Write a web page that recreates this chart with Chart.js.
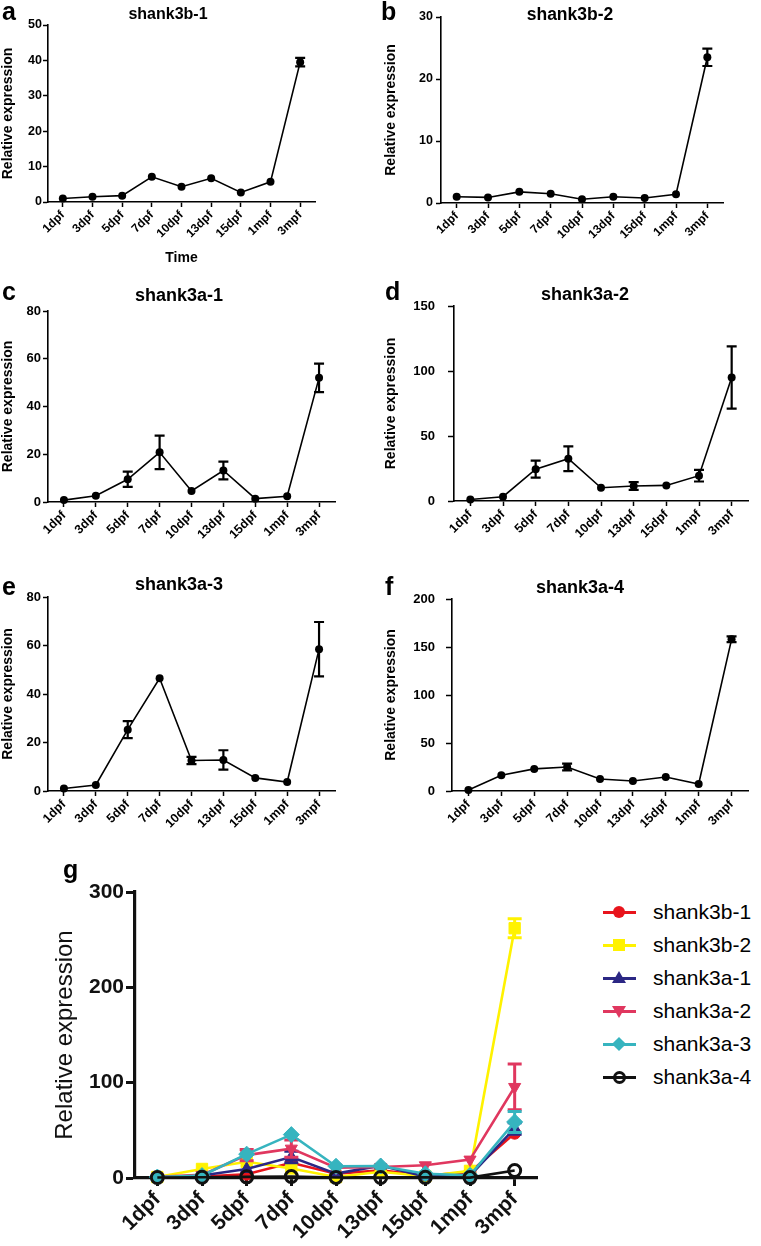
<!DOCTYPE html>
<html><head><meta charset="utf-8">
<script src="https://cdn.jsdelivr.net/npm/chart.js@4/dist/chart.umd.min.js"></script>
<style>
html,body{margin:0;padding:0;background:#fff;}
body{width:761px;height:1246px;position:relative;overflow:hidden;font-family:"Liberation Sans",Arial,sans-serif;color:#000;}
canvas{position:absolute;}
.lbl{position:absolute;white-space:nowrap;line-height:1;font-weight:bold;}
.ttl{position:absolute;white-space:nowrap;line-height:1;font-weight:bold;transform:translateX(-50%);}
.leg{position:absolute;left:603px;height:20px;width:160px;}
.leg .ln{position:absolute;left:0;top:9px;width:33px;height:2.5px;}
.leg .tx{position:absolute;left:50px;top:-1px;font-size:21px;line-height:21px;white-space:nowrap;}
.mk{position:absolute;}
</style></head><body>

<canvas id="ca" width="380" height="267" style="left:0;top:0"></canvas>
<canvas id="cb" width="381" height="267" style="left:380px;top:0"></canvas>
<canvas id="cc" width="380" height="280" style="left:0;top:265px"></canvas>
<canvas id="cd" width="381" height="280" style="left:380px;top:265px"></canvas>
<canvas id="ce" width="380" height="285" style="left:0;top:545px"></canvas>
<canvas id="cf" width="381" height="285" style="left:380px;top:545px"></canvas>
<canvas id="cg" width="590" height="416" style="left:0;top:830px"></canvas>

<div class="lbl" style="left:2px;top:-1px;font-size:25px">a</div>
<div class="lbl" style="left:381px;top:-1px;font-size:25px">b</div>
<div class="lbl" style="left:2px;top:279px;font-size:25px">c</div>
<div class="lbl" style="left:385px;top:279px;font-size:25px">d</div>
<div class="lbl" style="left:2px;top:574px;font-size:25px">e</div>
<div class="lbl" style="left:385px;top:574px;font-size:25px">f</div>
<div class="lbl" style="left:63px;top:857px;font-size:25px">g</div>

<div class="ttl" style="left:168px;top:6px;font-size:16px">shank3b-1</div>
<div class="ttl" style="left:570px;top:6px;font-size:17.5px">shank3b-2</div>
<div class="ttl" style="left:179px;top:286px;font-size:18px">shank3a-1</div>
<div class="ttl" style="left:585px;top:285px;font-size:18px">shank3a-2</div>
<div class="ttl" style="left:179px;top:575px;font-size:18px">shank3a-3</div>
<div class="ttl" style="left:580px;top:578px;font-size:18px">shank3a-4</div>

<div id="legend"></div>

<script>
// ---------- data ----------
const timepoints = ['1dpf','3dpf','5dpf','7dpf','10dpf','13dpf','15dpf','1mpf','3mpf'];

const shank3b1    = [1.0, 1.5, 1.8, 7.1, 4.3, 6.7, 2.7, 5.7, 39.5];
const shank3b1Err = [0, 0, 0, 0, 0, 0, 0, 0, 1.2];
const shank3b2    = [1.0, 0.9, 1.8, 1.5, 0.6, 1.0, 0.8, 1.4, 23.5];
const shank3b2Err = [0, 0, 0, 0, 0, 0, 0, 0, 1.4];
const shank3a1    = [0.8, 2.6, 9.5, 20.8, 4.6, 13.2, 1.4, 2.4, 52.0];
const shank3a1Err = [0, 0, 3.2, 7.0, 0, 3.7, 0, 0, 6.0];
const shank3a2    = [1.2, 3.3, 24.5, 32.5, 10.2, 11.5, 12.0, 19.5, 95.0];
const shank3a2Err = [0, 0, 6.5, 9.5, 0, 3.0, 0, 4.5, 24.0];
const shank3a3    = [1.0, 2.5, 25.3, 46.5, 12.6, 12.8, 5.4, 3.7, 58.5];
const shank3a3Err = [0, 0, 3.5, 0, 1.5, 4.0, 0, 0, 11.2];
const shank3a4    = [1.0, 16.5, 23.0, 25.0, 12.5, 10.4, 14.5, 7.3, 158.0];
const shank3a4Err = [0, 0, 0, 3.5, 0, 0, 0, 0, 3.0];

// combined panel g
const gNames = ['shank3b-1','shank3b-2','shank3a-1','shank3a-2','shank3a-3','shank3a-4'];
const gShank3b1    = [1.0, 1.5, 4.0, 16.0, 4.5, 8.0, 2.5, 6.0, 47.0];
const gShank3b1Err = [0, 0, 0, 0, 0, 0, 0, 0, 0];
const gShank3b2    = [1.0, 9.5, 17.0, 10.0, 1.0, 6.5, 1.8, 7.5, 262.0];
const gShank3b2Err = [0, 0, 0, 0, 0, 0, 0, 0, 10.0];
const gShank3a1    = [0.8, 2.6, 9.5, 22.0, 4.6, 13.0, 1.4, 2.4, 52.0];
const gShank3a1Err = [0, 0, 0, 6.0, 0, 0, 0, 0, 6.0];
const gShank3a2    = [1.2, 3.3, 24.0, 30.8, 10.9, 11.6, 13.3, 19.3, 95.5];
const gShank3a2Err = [0, 0, 6.0, 9.0, 0, 0, 0, 0, 24.0];
const gShank3a3    = [1.0, 2.5, 25.0, 45.5, 12.3, 12.6, 4.5, 2.8, 58.8];
const gShank3a3Err = [0, 0, 0, 0, 0, 0, 0, 0, 11.0];
const gShank3a4    = [0.5, 0.8, 1.2, 1.5, 0.6, 0.5, 0.7, 0.4, 7.9];
const gShank3a4Err = [0, 0, 0, 0, 0, 0, 0, 0, 0];

const gColors = ['#e8141c', '#fff200', '#2b2784', '#e0375f', '#36b4bf', '#111111'];

// ---------- plugin ----------
const FONT = '"Liberation Sans", Arial, sans-serif';
const errorBars = {
  id: 'errorBars',
  afterDatasetDraw(chart, args) {
    const ds = chart.data.datasets[args.index];
    if (!ds.errs) return;
    const ys = chart.scales.y, ctx = chart.ctx;
    ctx.save();
    ctx.strokeStyle = ds.errColor || ds.borderColor;
    ctx.lineWidth = ds.errWidth || 2;
    const cap = ds.capHalf || 5;
    args.meta.data.forEach((pt, i) => {
      const e = ds.errs[i];
      if (!e) return;
      const v = ds.data[i];
      const yt = ys.getPixelForValue(v + e), yb = ys.getPixelForValue(v - e);
      ctx.beginPath();
      ctx.moveTo(pt.x, yt); ctx.lineTo(pt.x, yb);
      ctx.moveTo(pt.x - cap, yt); ctx.lineTo(pt.x + cap, yt);
      ctx.moveTo(pt.x - cap, yb); ctx.lineTo(pt.x + cap, yb);
      ctx.stroke();
    });
    ctx.restore();
  }
};
Chart.register(errorBars);

function small(id, cfg) {
  new Chart(document.getElementById(id), {
    type: 'line',
    data: {
      labels: timepoints,
      datasets: [{
        data: cfg.values, errs: cfg.errs,
        borderColor: '#000', backgroundColor: '#000', borderWidth: 1.6,
        pointRadius: 4, pointBackgroundColor: '#000', pointBorderWidth: 0,
        errWidth: 2.2, capHalf: 5, clip: false, tension: 0
      }]
    },
    options: {
      responsive: false, animation: false,
      layout: { padding: { top: cfg.top, right: cfg.right, left: 0, bottom: 0 } },
      plugins: { legend: { display: false }, tooltip: { enabled: false } },
      scales: {
        x: {
          offset: true,
          afterFit: s => { s.height = cfg.xh; },
          ticks: { autoSkip: false, minRotation: 45, maxRotation: 45, color: '#000', padding: 1,
                   font: { family: FONT, size: cfg.xfs, weight: 'bold' } },
          grid: { drawOnChartArea: false, tickLength: 5, tickColor: '#000', tickWidth: 1.5 },
          border: { color: '#000', width: 1.6 },
          title: cfg.xtitle ? { display: true, text: cfg.xtitle, color: '#000',
                   font: { family: FONT, size: 14, weight: 'bold' }, padding: { top: 0, bottom: 0 } } : { display: false }
        },
        y: {
          min: 0, max: cfg.ymax,
          afterFit: s => { s.width = cfg.yw; },
          ticks: { stepSize: cfg.step, color: '#000', padding: cfg.tpad,
                   font: { family: FONT, size: cfg.yfs, weight: 'bold' } },
          grid: { drawOnChartArea: false, tickLength: cfg.tl || 5, tickColor: '#000', tickWidth: 1.5 },
          border: { color: '#000', width: 1.6 },
          title: { display: true, text: 'Relative expression', color: '#000',
                   font: { family: FONT, size: 14, weight: 'bold' }, padding: { top: cfg.ytp, bottom: 0 } }
        }
      }
    }
  });
}

small('ca', { values: shank3b1, errs: shank3b1Err, ymax: 50, step: 10, top: 25, right: 65, xh: 65, yw: 48, tpad: 1, ytp: 0, xfs: 12, yfs: 12.5, xtitle: 'Time' });
small('cb', { values: shank3b2, errs: shank3b2Err, ymax: 30, step: 10, top: 17, right: 38, xh: 64, yw: 61, tpad: 3, ytp: 3, xfs: 12, yfs: 12.5 });
small('cc', { values: shank3a1, errs: shank3a1Err, ymax: 80, step: 20, top: 46, right: 45, xh: 43, yw: 48, tpad: 2, ytp: 0, xfs: 12.5, yfs: 13 });
small('cd', { values: shank3a2, errs: shank3a2Err, ymax: 150, step: 50, top: 41, right: 13, xh: 44, yw: 74, tpad: 13, ytp: 3, xfs: 12.5, yfs: 13, tl: 6 });
small('ce', { values: shank3a3, errs: shank3a3Err, ymax: 80, step: 20, top: 52, right: 45, xh: 39, yw: 48, tpad: 2, ytp: 0, xfs: 12.5, yfs: 13 });
small('cf', { values: shank3a4, errs: shank3a4Err, ymax: 200, step: 50, top: 54, right: 13, xh: 39, yw: 72, tpad: 11, ytp: 3, xfs: 12.5, yfs: 13, tl: 6 });

// ---------- panel g ----------
const gValues = [gShank3b1, gShank3b2, gShank3a1, gShank3a2, gShank3a3, gShank3a4];
const gErrs = [gShank3b1Err, gShank3b2Err, gShank3a1Err, gShank3a2Err, gShank3a3Err, gShank3a4Err];
const gStyles = [
  { pointStyle: 'circle', r: 6, rot: 0 },
  { pointStyle: 'rect', r: 8, rot: 0 },
  { pointStyle: 'triangle', r: 7, rot: 0 },
  { pointStyle: 'triangle', r: 7, rot: 180 },
  { pointStyle: 'rectRot', r: 8, rot: 0 },
  { pointStyle: 'circle', r: 6, rot: 0 }
];
new Chart(document.getElementById('cg'), {
  type: 'line',
  data: {
    labels: timepoints,
    datasets: gNames.map((n, i) => ({
      label: n, data: gValues[i], errs: gErrs[i],
      borderColor: gColors[i], backgroundColor: gColors[i], borderWidth: 2.6,
      pointStyle: gStyles[i].pointStyle, pointRadius: gStyles[i].r, pointRotation: gStyles[i].rot,
      pointBackgroundColor: i === 5 ? 'rgba(0,0,0,0)' : gColors[i],
      pointBorderColor: gColors[i], pointBorderWidth: i === 5 ? 3 : 1,
      errWidth: 3, capHalf: 7, clip: false, tension: 0, order: 10 - i
    }))
  },
  options: {
    responsive: false, animation: false,
    layout: { padding: { top: 62, right: 53, left: 0, bottom: 0 } },
    plugins: { legend: { display: false }, tooltip: { enabled: false } },
    scales: {
      x: {
        offset: true,
        afterFit: s => { s.height = 68; },
        ticks: { autoSkip: false, minRotation: 45, maxRotation: 45, color: '#111', padding: 1,
                 font: { family: FONT, size: 21, weight: 'bold' } },
        grid: { drawOnChartArea: false, tickLength: 8, tickColor: '#111', tickWidth: 3 },
        border: { color: '#111', width: 3.2 }
      },
      y: {
        min: 0, max: 300,
        afterFit: s => { s.width = 135; },
        ticks: { stepSize: 100, color: '#111', padding: 2, font: { family: FONT, size: 21, weight: 'bold' } },
        grid: { drawOnChartArea: false, tickLength: 9, tickColor: '#111', tickWidth: 3 },
        border: { color: '#111', width: 3.2 },
        title: { display: true, text: 'Relative expression', color: '#111',
                 font: { family: FONT, size: 24 }, padding: { top: 51, bottom: 0 } }
      }
    }
  }
});

// ---------- legend for g (HTML) ----------
const legendMarkers = [
  'width:12px;height:12px;border-radius:50%;left:10px;top:4px;',
  'width:12px;height:12px;left:10px;top:4px;',
  'width:0;height:0;border-left:7px solid transparent;border-right:7px solid transparent;border-bottom-width:12px;border-bottom-style:solid;left:9px;top:3px;background:transparent !important;',
  'width:0;height:0;border-left:7px solid transparent;border-right:7px solid transparent;border-top-width:12px;border-top-style:solid;left:9px;top:5px;background:transparent !important;',
  'width:10px;height:10px;transform:rotate(45deg);left:11px;top:5px;',
  'width:7px;height:7px;border-radius:50%;border:3px solid #111;left:10px;top:3.5px;background:transparent !important;'
];
const legEl = document.getElementById('legend');
gNames.forEach((n, i) => {
  const row = document.createElement('div');
  row.className = 'leg';
  row.style.top = (902 + i * 33) + 'px';
  const ln = document.createElement('div'); ln.className = 'ln'; ln.style.background = gColors[i];
  const mk = document.createElement('div'); mk.className = 'mk';
  mk.setAttribute('style', 'position:absolute;background:' + gColors[i] + ';' + legendMarkers[i]);
  if (i === 2) mk.style.borderBottomColor = gColors[i];
  if (i === 3) mk.style.borderTopColor = gColors[i];
  const tx = document.createElement('div'); tx.className = 'tx'; tx.textContent = n;
  row.appendChild(ln); row.appendChild(mk); row.appendChild(tx);
  legEl.appendChild(row);
});
</script>
</body></html>
